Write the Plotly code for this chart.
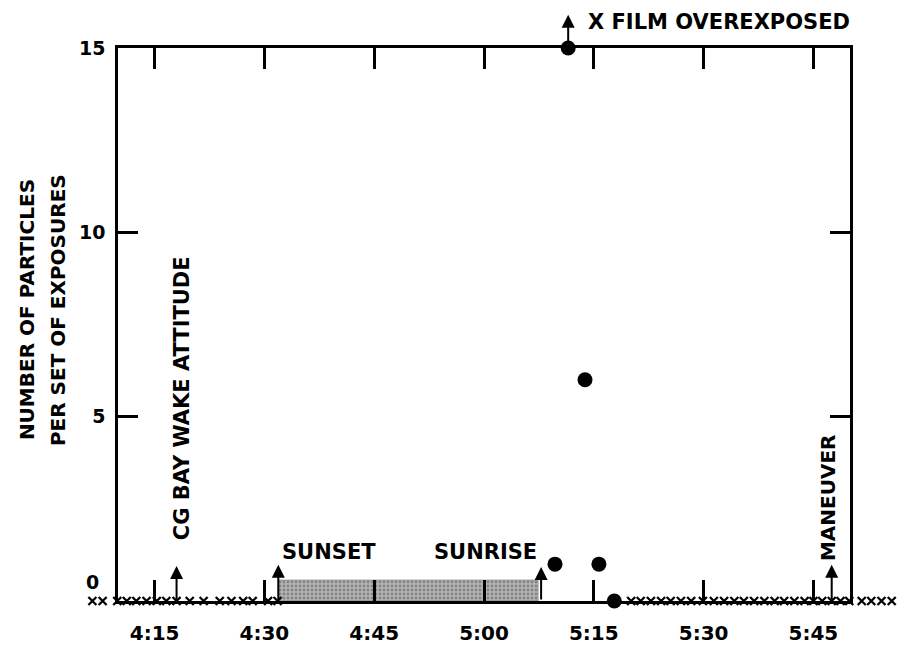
import plotly.graph_objects as go

# ---- data (minutes after 4:00) ----
tick_vals = [15, 30, 45, 60, 75, 90, 105]
tick_text = ["4:15", "4:30", "4:45", "5:00", "5:15", "5:30", "5:45"]

dot_times = [69.7, 71.5, 73.8, 75.7, 77.8]
dot_counts = [1, 15, 6, 1, 0]

zero_times = [6.5, 7.9, 9.9, 11.2, 12.5, 13.9, 15.3, 16.6, 18.0, 19.8, 21.7,
              23.9, 25.5, 27.1, 28.4, 30.5, 31.8,
              80.1, 81.4, 82.8, 84.2, 85.5, 86.9, 88.3, 89.9, 91.4, 92.8,
              94.2, 95.5, 96.9, 98.3, 99.7, 101.0, 102.4, 103.8, 105.0, 106.2,
              107.5, 108.7, 109.9, 111.6, 112.9, 114.3, 115.7]
zero_counts = [0] * len(zero_times)

sunset_time = 31.9
sunrise_time = 67.4
night_band = 0.57

cg_time = 18.0
maneuver_time = 107.5
overexposed_time = 71.5

X_RANGE = [10, 110]

FONT = "DejaVu Sans"
BOLD = dict(family=FONT, size=21, color="black", weight="bold")

W, H = 910, 646
PL, PR = 118, 850          # plot frame pixel edges
px_per_min = (PR - PL) / (X_RANGE[1] - X_RANGE[0])
wide_range = [X_RANGE[0] - PL / px_per_min, X_RANGE[1] + (W - PR) / px_per_min]

def px(p):
    return p / W

fig = go.Figure()

# shaded night band
fig.add_trace(go.Scatter(
    x=[sunset_time, sunset_time, sunrise_time, sunrise_time, sunset_time],
    y=[0, night_band, night_band, 0, 0],
    mode="lines", fill="toself",
    line=dict(width=0.5, color="#666666"),
    fillcolor="#a8a8a8",
    fillpattern=dict(shape=".", fgcolor="#555555", bgcolor="#b4b4b4", size=4, solidity=0.4),
    hoverinfo="skip", showlegend=False,
))

# particle counts
fig.add_trace(go.Scatter(
    x=dot_times, y=dot_counts, mode="markers", cliponaxis=False,
    marker=dict(symbol="circle", size=15, color="black"),
    showlegend=False,
))

# zero-count exposures (x marks), on a full-width overlay axis with same scale
fig.add_trace(go.Scatter(
    x=zero_times, y=zero_counts, mode="markers", cliponaxis=False,
    xaxis="x2", yaxis="y",
    marker=dict(symbol="x-thin", size=8, color="black", line=dict(width=2.3, color="black")),
    showlegend=False,
))

annotations = []

def arrow(x, y_tail, y_head):
    annotations.append(dict(
        x=x, y=y_head, ax=x, ay=y_tail, xref="x", yref="y", axref="x", ayref="y",
        text="", showarrow=True, arrowhead=2, arrowsize=1.3, arrowwidth=2,
        arrowcolor="black", standoff=0, startstandoff=0,
    ))

arrow(cg_time, 0, 0.95)
arrow(sunset_time, 0, 0.98)
arrow(sunrise_time + 0.4, 0, 0.92)
arrow(maneuver_time, 0, 0.98)
arrow(overexposed_time, 15, 15.9)

annotations += [
    dict(x=18.74, y=5.5, xref="x", yref="y", text="CG BAY WAKE ATTITUDE",
         textangle=-90, showarrow=False, font=BOLD, xanchor="center", yanchor="middle"),
    dict(x=106.9, y=2.8, xref="x", yref="y", text="MANEUVER",
         textangle=-90, showarrow=False, font=dict(family=FONT, size=20, color="black", weight="bold"),
         xanchor="center", yanchor="middle"),
    dict(x=32.1, y=1.33, xref="x", yref="y", text="SUNSET",
         showarrow=False, font=BOLD, xanchor="left", yanchor="middle"),
    dict(x=67.5, y=1.33, xref="x", yref="y", text="SUNRISE",
         showarrow=False, font=BOLD, xanchor="right", yanchor="middle"),
    dict(x=px(586), y=(601 - 22) / 553, xref="paper", yref="paper",
         text="X FILM OVEREXPOSED",
         showarrow=False, font=BOLD, xanchor="left", yanchor="middle"),
    dict(x=px(92), y=0.52, xref="paper", yref="y", text="0",
         showarrow=False, font=dict(family=FONT, size=19, color="black", weight="bold"),
         xanchor="center", yanchor="middle"),
    dict(x=px(27), y=0.526, xref="paper", yref="paper", text="NUMBER OF PARTICLES",
         textangle=-90, showarrow=False, font=dict(family=FONT, size=20, color="black", weight="bold"),
         xanchor="center", yanchor="middle"),
    dict(x=px(58), y=0.526, xref="paper", yref="paper", text="PER SET OF EXPOSURES",
         textangle=-90, showarrow=False, font=dict(family=FONT, size=20, color="black", weight="bold"),
         xanchor="center", yanchor="middle"),
]

fig.update_layout(
    width=W, height=H, autosize=False,
    margin=dict(l=0, r=0, t=48, b=45, pad=0),
    paper_bgcolor="white", plot_bgcolor="rgba(0,0,0,0)",
    showlegend=False,
    annotations=annotations,
    font=dict(family=FONT, color="black"),
    xaxis=dict(
        domain=[px(PL), px(PR)], anchor="y",
        range=X_RANGE, tickvals=tick_vals, ticktext=tick_text,
        showgrid=False, zeroline=False, automargin=False,
        showline=True, linecolor="black", linewidth=2.5, mirror="allticks",
        ticks="inside", ticklen=21, tickwidth=2.5, tickcolor="black",
        ticklabelstandoff=12,
        tickfont=dict(family=FONT, size=20, color="black", weight="bold"),
    ),
    xaxis2=dict(
        domain=[0, 1], anchor="y", range=wide_range, visible=False,
        showgrid=False, zeroline=False, automargin=False, fixedrange=True,
    ),
    yaxis=dict(
        anchor="x",
        range=[0, 15], tickvals=[5, 10, 15], ticktext=["5", "10", "15"],
        showgrid=False, zeroline=False, automargin=False,
        showline=True, linecolor="black", linewidth=2.5, mirror="allticks",
        ticks="inside", ticklen=20, tickwidth=2.5, tickcolor="black",
        ticklabelstandoff=6,
        tickfont=dict(family=FONT, size=19, color="black", weight="bold"),
    ),
)

fig.write_html("out.html")
